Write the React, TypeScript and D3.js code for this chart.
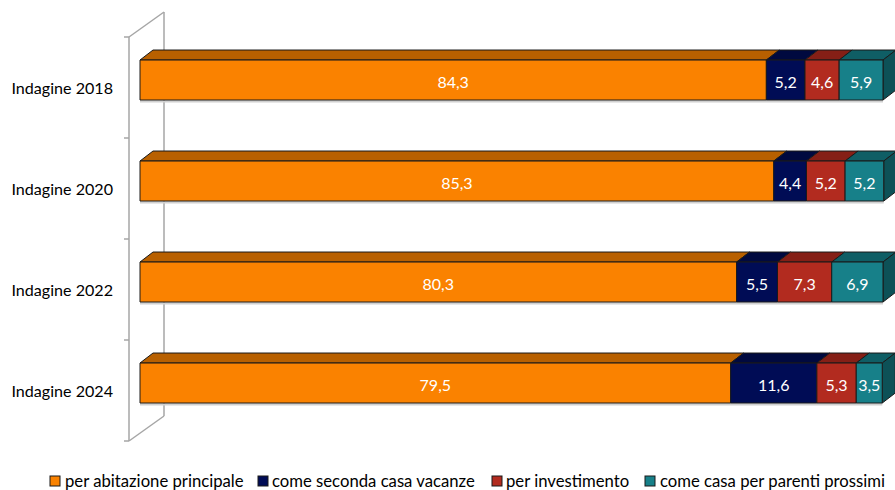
import React from "react";
import * as d3 from "d3";

const categories = ["Indagine 2018", "Indagine 2020", "Indagine 2022", "Indagine 2024"];
const seriesNames = ["per abitazione principale", "come seconda casa vacanze", "per investimento", "come casa per parenti prossimi"];
const abitazione = [84.3, 85.3, 80.3, 79.5];
const secondaCasa = [5.2, 4.4, 5.5, 11.6];
const investimento = [4.6, 5.2, 7.3, 5.3];
const parenti = [5.9, 5.2, 6.9, 3.5];

const frontColors = ["#FA8200", "#000C55", "#B22B1F", "#178089"];
const topColors = ["#B86000", "#00093F", "#851F16", "#0F5E65"];
const sideColors = ["#A85700", "#000838", "#701A12", "#0D5157"];

const W = 895, H = 490;
const FONT = "Lato, 'Open Sans', sans-serif";

export default function App() {
  const series = [abitazione, secondaCasa, investimento, parenti];
  const x = d3.scaleLinear().domain([0, 100]).range([140, 883]);
  const y = d3.scaleBand().domain(categories).range([37, 441]).paddingInner(0).paddingOuter(0);
  const bw = y.bandwidth();
  const barOff = bw * 0.228;
  const barH = bw * 0.396;
  const dx = 13, dy = 10;
  const wdx = 35, wdy = 25;
  const axX = 129;
  const [yTop, yBot] = y.range();
  const fmt = (v: number) => v.toFixed(1).replace(".", ",");

  const stacked = categories.map((c, i) => {
    let acc = 0;
    return series.map((s, k) => {
      const v0 = acc;
      acc += s[i];
      return { k, v: s[i], x0: x(v0), x1: x(acc) };
    });
  });

  const legendItems = [
    { sx: 50, tx: 65 },
    { sx: 258, tx: 272 },
    { sx: 492, tx: 506 },
    { sx: 645, tx: 660 },
  ];

  return (
    <svg width={W} height={H} style={{ position: "absolute", left: 0, top: 0, background: "#fff" }}>
      {/* wall */}
      <g stroke="#A6A6A6" strokeWidth={1.5} fill="none">
        <line x1={axX} y1={yTop} x2={axX} y2={yBot} />
        <line x1={axX + wdx} y1={yTop - wdy} x2={axX + wdx} y2={yBot - wdy} />
        <line x1={axX} y1={yTop} x2={axX + wdx} y2={yTop - wdy} />
        <line x1={axX} y1={yBot} x2={axX + wdx} y2={yBot - wdy} />
        {d3.range(categories.length + 1).map((i) => {
          const ty = yTop + i * bw;
          return <line key={i} x1={axX - 5} y1={ty} x2={axX} y2={ty} />;
        })}
      </g>
      {/* category labels */}
      {categories.map((c) => (
        <text key={c} x={113} y={(y(c) as number) + bw / 2} textAnchor="end" dominantBaseline="central"
          fontFamily={FONT} fontSize={16.1} fill="#000">{c}</text>
      ))}
      {/* bars */}
      {categories.map((c, i) => {
        const y0 = (y(c) as number) + barOff;
        const segs = stacked[i];
        const last = segs[segs.length - 1];
        return (
          <g key={c} stroke="#1a1a1a" strokeWidth={1} strokeLinejoin="round">
            <line x1={x(0)} y1={y0 + barH + 1.5} x2={last.x1} y2={y0 + barH + 1.5} stroke="#D0D0D0" strokeWidth={2} />
            {segs.map((s) => (
              <polygon key={"t" + s.k} fill={topColors[s.k]}
                points={`${s.x0},${y0} ${s.x0 + dx},${y0 - dy} ${s.x1 + dx},${y0 - dy} ${s.x1},${y0}`} />
            ))}
            <polygon fill={sideColors[last.k]}
              points={`${last.x1},${y0} ${last.x1 + dx},${y0 - dy} ${last.x1 + dx},${y0 + barH - dy} ${last.x1},${y0 + barH}`} />
            {segs.map((s) => (
              <rect key={"f" + s.k} x={s.x0} y={y0} width={s.x1 - s.x0} height={barH} fill={frontColors[s.k]} />
            ))}
            {segs.map((s) => (
              <text key={"l" + s.k} x={(s.x0 + s.x1) / 2} y={y0 + barH / 2 + 1} textAnchor="middle"
                dominantBaseline="central" fontFamily={FONT} fontSize={16} fill="#fff" stroke="none">{fmt(s.v)}</text>
            ))}
          </g>
        );
      })}
      {/* legend */}
      {seriesNames.map((n, k) => (
        <g key={n}>
          <rect x={legendItems[k].sx} y={476} width={10} height={10} fill={frontColors[k]} stroke="#1a1a1a" strokeWidth={1} />
          <text x={legendItems[k].tx} y={481} dominantBaseline="central" fontFamily={FONT} fontSize={16.7} fill="#000">{n}</text>
        </g>
      ))}
    </svg>
  );
}
